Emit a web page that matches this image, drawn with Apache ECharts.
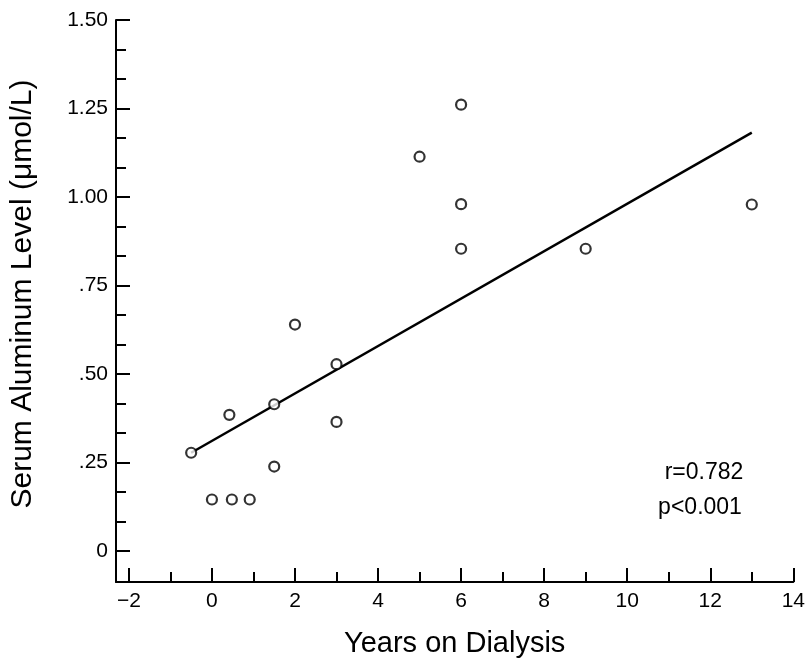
<!DOCTYPE html>
<html>
<head>
<meta charset="utf-8">
<script src="https://cdn.jsdelivr.net/npm/echarts@6/dist/echarts.min.js"></script>
<style>
html,body{margin:0;padding:0;background:#fff;}
#c{width:808px;height:663px;}
</style>
</head>
<body>
<div id="c"></div>
<script>
// ---- data ----
var yearsOnDialysis = [-0.5, 0, 0.42, 0.48, 0.91, 1.5, 1.5, 2, 3, 3, 5, 6, 6, 6, 9, 13];
var serumAluminum   = [0.278, 0.146, 0.385, 0.146, 0.146, 0.415, 0.239, 0.640, 0.528, 0.365, 1.114, 1.261, 0.980, 0.854, 0.854, 0.979];
var fitLineX = [-0.5, 13];
var fitLineY = [0.278, 1.182];
var xTicks = [-2, 0, 2, 4, 6, 8, 10, 12, 14];
var xTickLabels = ['\u22122', '0', '2', '4', '6', '8', '10', '12', '14'];
var yTicks = [0, 0.25, 0.5, 0.75, 1.0, 1.25, 1.5];
var yTickLabels = ['0', '.25', '.50', '.75', '1.00', '1.25', '1.50'];
var statsText = ['r=0.782', 'p<0.001'];
var xTitle = 'Years on Dialysis';
var yTitle = 'Serum Aluminum Level (\u03bcmol/L)';

// ---- derived tick positions ----
var xMinor = [];
for (var i = 0; i < xTicks.length - 1; i++) xMinor.push((xTicks[i] + xTicks[i + 1]) / 2);
var yMinor = [];
for (var j = 0; j < yTicks.length - 1; j++) {
  var a = yTicks[j], b = yTicks[j + 1];
  yMinor.push(a + (b - a) / 3, a + 2 * (b - a) / 3);
}
var points = yearsOnDialysis.map(function (x, k) { return [x, serumAluminum[k]]; });
var fit = fitLineX.map(function (x, k) { return [x, fitLineY[k]]; });

function lookup(vals, labels, v) {
  for (var k = 0; k < vals.length; k++) if (Math.abs(vals[k] - v) < 1e-6) return labels[k];
  return '';
}

var FONT = '"Liberation Sans", Arial, Helvetica, sans-serif';
var X_MIN = -2.31, X_MAX = 14, Y_MIN = -0.087, Y_MAX = 1.5;

var chart = echarts.init(document.getElementById('c'), null, {renderer: 'canvas'});
chart.setOption({
  animation: false,
  backgroundColor: '#fff',
  grid: {left: 116, right: 11, top: 20, bottom: 76},
  xAxis: [{
    type: 'value', min: X_MIN, max: X_MAX, position: 'bottom',
    name: xTitle, nameLocation: 'middle', nameGap: 47,
    nameTextStyle: {fontFamily: FONT, fontSize: 29, color: '#000'},
    axisLine: {onZero: false, lineStyle: {color: '#000', width: 2}},
    axisTick: {show: true, inside: true, length: 14, customValues: xTicks, lineStyle: {color: '#000', width: 2}},
    axisLabel: {customValues: xTicks, margin: 9, fontFamily: FONT, fontSize: 21, color: '#000',
      formatter: function (v) { return lookup(xTicks, xTickLabels, v); }},
    splitLine: {show: false}
  }, {
    type: 'value', min: X_MIN, max: X_MAX, position: 'bottom',
    axisLine: {show: false, onZero: false},
    axisTick: {show: true, inside: true, length: 10, customValues: xMinor, lineStyle: {color: '#000', width: 2}},
    axisLabel: {show: false},
    splitLine: {show: false}
  }],
  yAxis: [{
    type: 'value', min: Y_MIN, max: Y_MAX, position: 'left',
    name: yTitle, nameLocation: 'middle', nameGap: 78, nameRotate: 90,
    nameTextStyle: {fontFamily: FONT, fontSize: 30, color: '#000', padding: [0, 0, 0, 14]},
    axisLine: {onZero: false, lineStyle: {color: '#000', width: 2}},
    axisTick: {show: true, inside: true, length: 14, customValues: yTicks, lineStyle: {color: '#000', width: 2}},
    axisLabel: {customValues: yTicks, margin: 8, fontFamily: FONT, fontSize: 21, color: '#000',
      formatter: function (v) { return lookup(yTicks, yTickLabels, v); }},
    splitLine: {show: false}
  }, {
    type: 'value', min: Y_MIN, max: Y_MAX, position: 'left',
    axisLine: {show: false, onZero: false},
    axisTick: {show: true, inside: true, length: 10, customValues: yMinor, lineStyle: {color: '#000', width: 2}},
    axisLabel: {show: false},
    splitLine: {show: false}
  }],
  series: [{
    type: 'line', data: fit, xAxisIndex: 0, yAxisIndex: 0,
    showSymbol: false, symbol: 'none', z: 2,
    lineStyle: {color: '#000', width: 2.5}
  }, {
    type: 'scatter', data: points, xAxisIndex: 0, yAxisIndex: 0,
    symbol: 'circle', symbolSize: 10, z: 3,
    itemStyle: {color: '#fff', borderColor: '#000', borderWidth: 2.2}
  }],
  graphic: [{
    type: 'text', x: 704, y: 473,
    style: {text: statsText[0], fontFamily: FONT, fontSize: 23, fill: '#000', textAlign: 'center', textVerticalAlign: 'middle'}
  }, {
    type: 'text', x: 700, y: 508,
    style: {text: statsText[1], fontFamily: FONT, fontSize: 23, fill: '#000', textAlign: 'center', textVerticalAlign: 'middle'}
  }]
});
</script>
</body>
</html>
